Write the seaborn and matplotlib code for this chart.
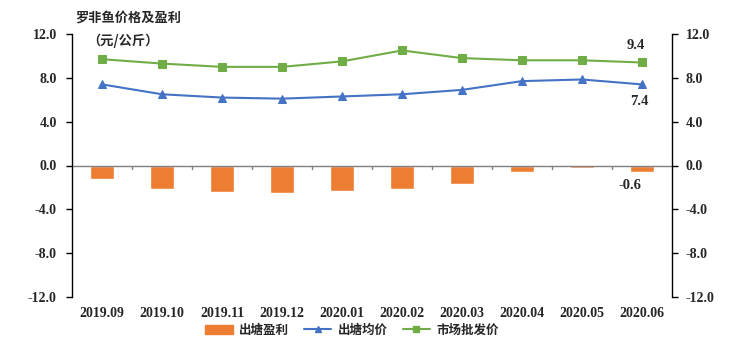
import numpy as np
import pandas as pd
import matplotlib
matplotlib.use("Agg")
import matplotlib.pyplot as plt
import seaborn as sns
from matplotlib.patches import Patch
from matplotlib.lines import Line2D

months = ["2019.09", "2019.10", "2019.11", "2019.12", "2020.01",
          "2020.02", "2020.03", "2020.04", "2020.05", "2020.06"]
profit = [-1.2, -2.1, -2.4, -2.5, -2.3, -2.1, -1.7, -0.6, -0.2, -0.6]
pond_price = [7.4, 6.5, 6.2, 6.1, 6.3, 6.5, 6.9, 7.7, 7.85, 7.4]
wholesale = [9.7, 9.3, 9.0, 9.0, 9.5, 10.5, 9.8, 9.6, 9.6, 9.4]
yticks = [-12.0, -8.0, -4.0, 0.0, 4.0, 8.0, 12.0]
legend_labels = ["出塘盈利", "出塘均价", "市场批发价"]
title_lines = ["罗非鱼价格及盈利", "（元/公斤）"]

sns.set_theme(style="white")
plt.rcParams['font.family'] = ['Liberation Serif', 'Noto Sans CJK SC', 'DejaVu Sans']
plt.rcParams['axes.unicode_minus'] = False

c_orange = "#ED7D31"
c_blue = "#4472C4"
c_green = "#70AD47"

fig = plt.figure(figsize=(7.51, 3.43), dpi=100)
ax = fig.add_axes([72/751, 1-297/343, 600/751, 263/343])

df = pd.DataFrame({"month": months, "profit": profit,
                   "pond": pond_price, "whole": wholesale})
df["pos"] = np.arange(len(months))

sns.barplot(data=df, x="month", y="profit", color=c_orange, saturation=1,
            width=0.4, ax=ax, order=months)
sns.lineplot(data=df, x="pos", y="pond", color=c_blue, marker="^",
             markersize=6, markeredgecolor=c_blue, linewidth=1.5, ax=ax)
sns.lineplot(data=df, x="pos", y="whole", color=c_green, marker="s",
             markersize=5.5, markeredgecolor=c_green, linewidth=1.5, ax=ax)

num_font = dict(fontsize=10, fontweight="bold")

ax.set_xlim(-0.5, len(months) - 0.5)
ax.set_ylim(-12, 12)
ax.axhline(0, color="#7F7F7F", linewidth=1, zorder=1)
ax.set_xlabel("")
ax.set_ylabel("")
ax.set_yticks(yticks)
ax.set_yticklabels([f"{v:.1f}" for v in yticks], **num_font)
ax.set_xticks(np.arange(len(months)))
ax.set_xticklabels(months, **num_font)
ax.tick_params(axis="x", length=0, pad=7)
ax.tick_params(axis="y", direction="out", length=4, width=1, color="black", left=True, pad=7)
for x in np.arange(0.5, len(months) - 0.5, 1.0):
    ax.plot([x, x], [0, -0.35], color="#7F7F7F", linewidth=1, zorder=1)

for s in ["top", "bottom", "right"]:
    ax.spines[s].set_visible(False)
ax.spines["left"].set_color("black")
ax.spines["left"].set_linewidth(1)

ax2 = ax.twinx()
ax2.set_ylim(-12, 12)
ax2.set_yticks(yticks)
ax2.set_yticklabels([f"{v:.1f}" for v in yticks], **num_font)
ax2.tick_params(axis="y", direction="out", length=4, width=1, color="black", right=True, pad=6)
for s in ["top", "bottom", "left"]:
    ax2.spines[s].set_visible(False)
ax2.spines["right"].set_color("black")
ax2.spines["right"].set_linewidth(1)
ax2.grid(False)
ax.grid(False)

# data labels
n = len(months) - 1
ax.text(n - 0.1, wholesale[-1] + 1.0, f"{wholesale[-1]:.1f}", ha="center", va="bottom",
        fontsize=10.5, fontweight="bold")
ax.text(n - 0.05, pond_price[-1] - 1.0, f"{pond_price[-1]:.1f}", ha="center", va="top",
        fontsize=10.5, fontweight="bold")
ax.text(n - 0.2, profit[-1] - 0.6, f"{profit[-1]:.1f}", ha="center", va="top",
        fontsize=10.5, fontweight="bold")

# title
fig.text(75/751, 1-18/343, title_lines[0], ha="left", va="center", fontsize=9.5,
         fontweight="bold", family=['Noto Sans CJK SC'])
fig.text(87/751, 1-41/343, title_lines[1], ha="left", va="center", fontsize=9.5,
         fontweight="bold", family=['Noto Sans CJK SC'])

handles = [Patch(facecolor=c_orange, edgecolor=c_orange),
           Line2D([0], [0], color=c_blue, marker="^", markersize=5, linewidth=1.5),
           Line2D([0], [0], color=c_green, marker="s", markersize=4.5, linewidth=1.5)]
fig.legend(handles, legend_labels, loc="center", bbox_to_anchor=(352/751, 1-330/343),
           ncol=3, frameon=False, prop={"family": "Noto Sans CJK SC", "size": 9, "weight": "bold"},
           handlelength=2.2, columnspacing=1.2, handletextpad=0.5)

fig.savefig("out.png", dpi=100)
